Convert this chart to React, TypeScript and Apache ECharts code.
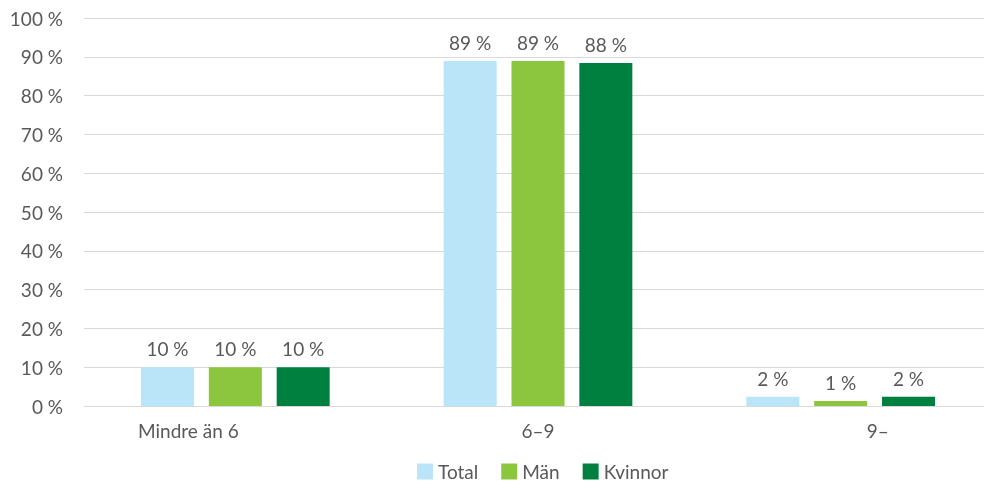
import React, { useEffect, useRef } from "react";
import * as echarts from "echarts";

const categories = ["Mindre än 6", "6–9", "9–"];
const seriesNames = ["Total", "Män", "Kvinnor"];
const totalValues = [10, 88.9, 2.4];
const manValues = [10, 88.9, 1.3];
const kvinnorValues = [10, 88.4, 2.4];
const yTicks = { min: 0, max: 100, interval: 10 };

const colors = ["#BAE4F8", "#8CC63F", "#00803E"];
const FONT = "Lato, 'Open Sans', sans-serif";
const TXT = "#595959";
const FS = 19;

export default function App() {
  const ref = useRef<HTMLDivElement>(null);
  useEffect(() => {
    if (!ref.current) return;
    const chart = echarts.init(ref.current, undefined, { renderer: "svg" });
    const dataSets = [totalValues, manValues, kvinnorValues];
    chart.setOption({
      animation: false,
      textStyle: { fontFamily: FONT },
      grid: {
        left: 84,
        right: -8,
        top: 18,
        bottom: 82,
        containLabel: false,
        outerBoundsMode: "none",
      },
      legend: {
        bottom: 2,
        left: 412,
        itemWidth: 16,
        itemHeight: 16,
        itemGap: 23,
        icon: "rect",
        textStyle: { color: TXT, fontSize: FS, fontFamily: FONT },
        data: seriesNames,
      },
      xAxis: {
        type: "category",
        data: categories,
        axisLine: { lineStyle: { color: "#D9D9D9", width: 1 } },
        axisTick: { show: false },
        axisLabel: {
          color: TXT,
          fontSize: FS,
          fontFamily: FONT,
          margin: 15,
          formatter: (v: string, i: number) =>
            i === 0 ? `{l|${v}}` : i === 2 ? `{r|${v}}` : `{c|${v}}`,
          rich: {
            l: { color: TXT, fontSize: FS, fontFamily: FONT, padding: [0, 94, 0, 0] },
            c: { color: TXT, fontSize: FS, fontFamily: FONT },
            r: { color: TXT, fontSize: FS, fontFamily: FONT, padding: [0, 0, 0, 74] },
          },
        },
      },
      yAxis: {
        type: "value",
        min: yTicks.min,
        max: yTicks.max,
        interval: yTicks.interval,
        axisLine: { show: false },
        axisTick: { show: false },
        splitLine: { lineStyle: { color: "#D9D9D9", width: 1 } },
        axisLabel: {
          color: TXT,
          fontSize: FS,
          fontFamily: FONT,
          margin: 21,
          formatter: "{value} %",
        },
      },
      series: seriesNames.map((name, si) => ({
        name,
        type: "bar",
        data: dataSets[si],
        barWidth: 53,
        barGap: "28%",
        itemStyle: { color: colors[si] },
        label: {
          show: true,
          position: "top",
          distance: 9,
          color: TXT,
          fontSize: FS,
          fontFamily: FONT,
          formatter: (p: any) => `${Math.round(p.value)} %`,
        },
      })),
    });
    return () => chart.dispose();
  }, []);
  return (
    <div
      ref={ref}
      style={{ position: "fixed", left: 0, top: 0, width: 984, height: 488 }}
    />
  );
}
